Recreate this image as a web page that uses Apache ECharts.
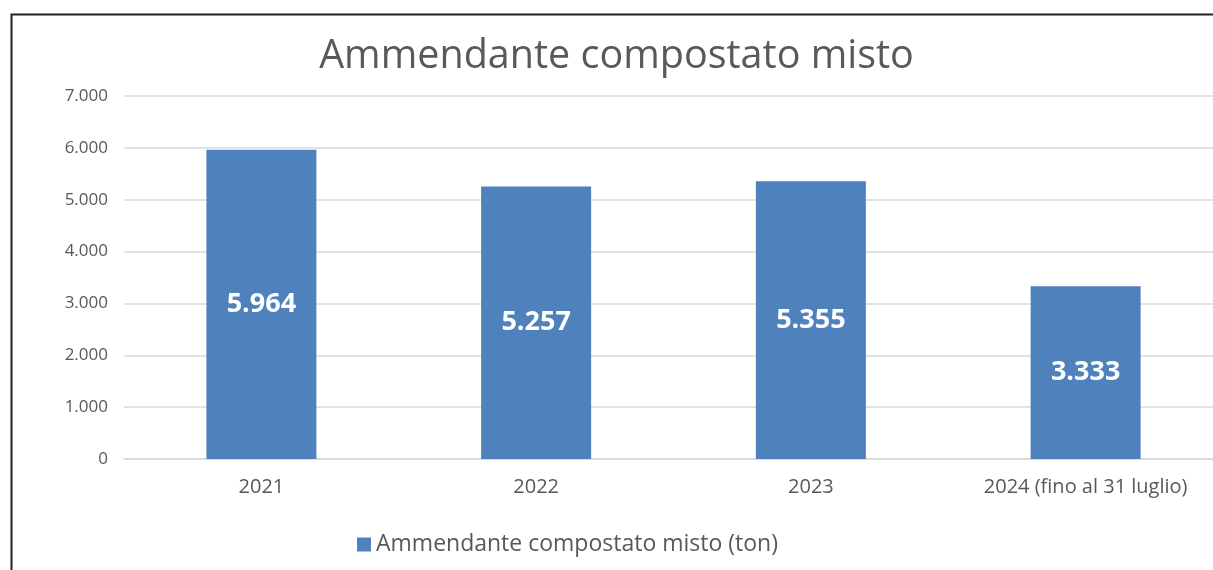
<!DOCTYPE html>
<html>
<head>
<meta charset="utf-8">
<script src="https://cdn.jsdelivr.net/npm/echarts@6/dist/echarts.min.js"></script>
<style>
    html, body { margin: 0; padding: 0; background: #fff; overflow: hidden; }
    /* il grafico originale era un po' più largo della finestra */
    #chart { width: 1233px; height: 570px; }
</style>
</head>
<body>
<div id="chart"></div>
<script>
    // dati
    const categories = ['2021', '2022', '2023', '2024 (fino al 31 luglio)'];
    const values = [5964, 5257, 5355, 3333];
    const seriesName = 'Ammendante compostato misto (ton)';
    const titleText = 'Ammendante compostato misto';

    const fmt = (v) => String(v).replace(/\B(?=(\d{3})+(?!\d))/g, '.');
    const font = 'Open Sans';

    const myChart = echarts.init(document.getElementById('chart'));
    const option = {
        animation: false,
        backgroundColor: '#fff',
        textStyle: { fontFamily: font },
        title: {
            text: titleText,
            left: 'center',
            top: 32,
            textStyle: { fontSize: 39.5, fontWeight: 'normal', color: '#595959', fontFamily: font }
        },
        graphic: [{
            type: 'rect',
            left: 9, top: 12,
            shape: { width: 1400, height: 800 },
            style: { fill: 'none', stroke: '#222', lineWidth: 2 },
            silent: true
        }],
        legend: {
            left: 352,
            top: 528,
            icon: 'rect',
            itemWidth: 14,
            itemHeight: 14,
            itemGap: 6,
            textStyle: { fontSize: 23, color: '#595959', fontFamily: font },
            data: [seriesName]
        },
        grid: { left: 124, right: 10, top: 96, bottom: 111, containLabel: false },
        xAxis: {
            type: 'category',
            data: categories,
            axisLine: { lineStyle: { color: '#d9d9d9', width: 1.5 } },
            axisTick: { show: false },
            axisLabel: { fontSize: 20, color: '#595959', margin: 18, interval: 0 }
        },
        yAxis: {
            type: 'value',
            min: 0,
            max: 7000,
            interval: 1000,
            axisLine: { show: false },
            axisTick: { show: false },
            splitLine: { lineStyle: { color: '#d9d9d9', width: 1.5 } },
            axisLabel: { fontSize: 17, color: '#595959', margin: 16, formatter: fmt }
        },
        series: [{
            name: seriesName,
            type: 'bar',
            data: values,
            barWidth: 110,
            itemStyle: { color: '#4f81bd' },
            label: {
                show: true,
                position: 'inside',
                color: '#fff',
                fontSize: 27,
                fontWeight: 'bold',
                fontFamily: font,
                formatter: (p) => fmt(p.value)
            }
        }]
    };
    myChart.setOption(option);
</script>
</body>
</html>
